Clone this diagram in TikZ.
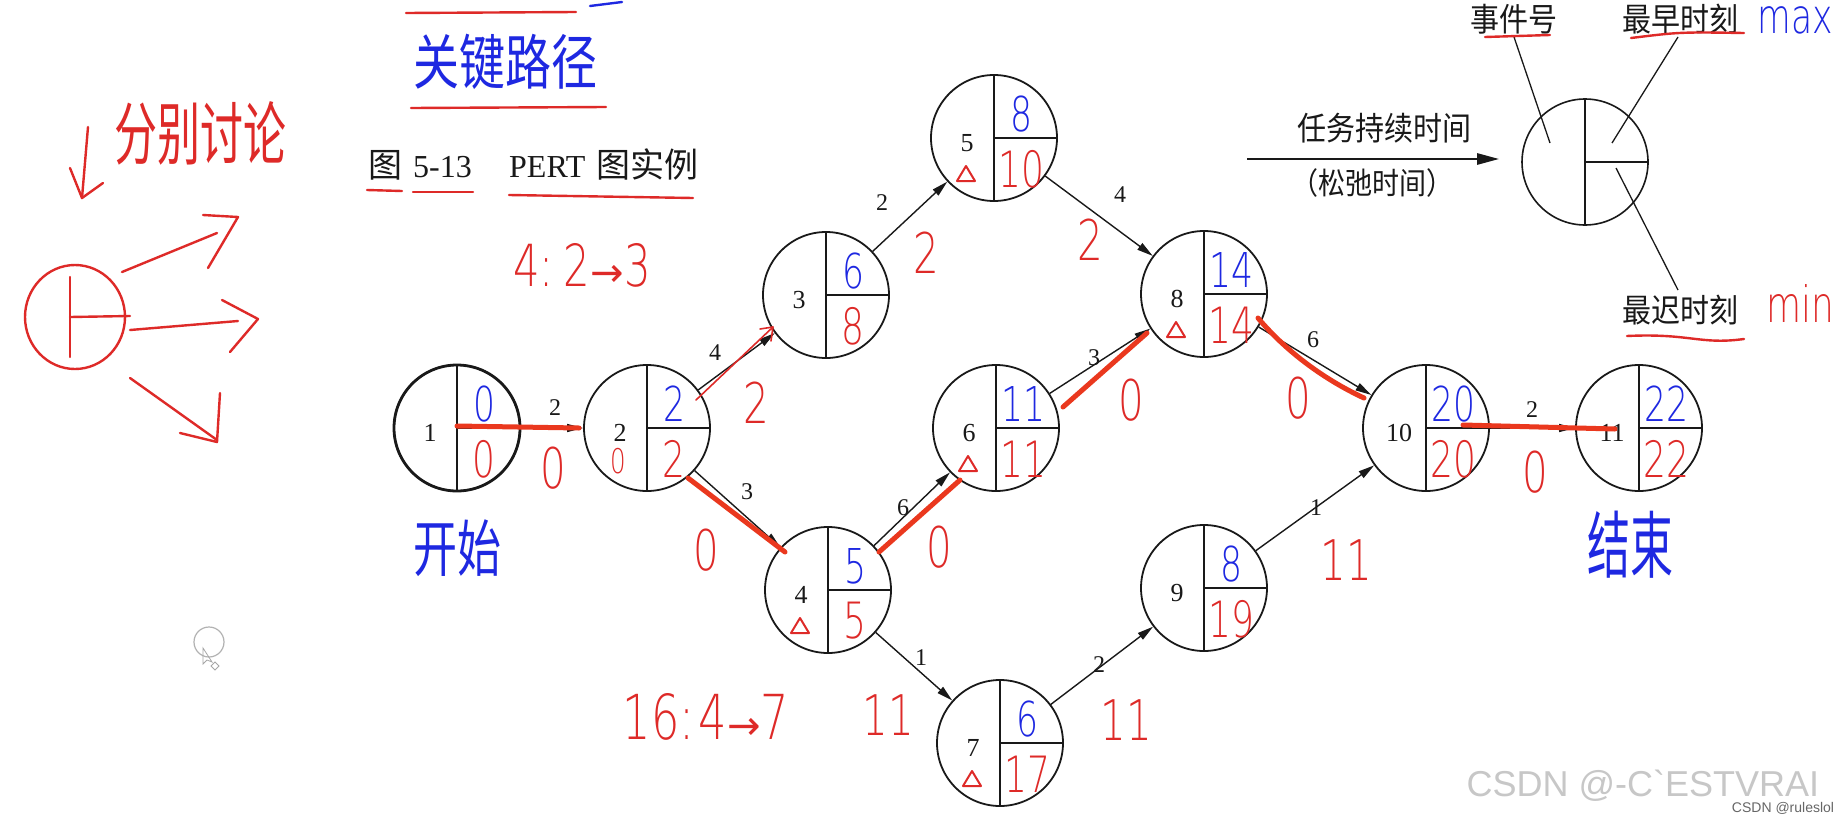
\documentclass[tikz,border=0pt]{standalone}
\usepackage{fontspec}
\setmainfont{Liberation Serif}
\newfontfamily\cjk{Noto Sans CJK SC}
\newfontfamily\hnum[FakeStretch=0.72]{DejaVu Sans ExtraLight}
\newfontfamily\harr{DejaVu Sans}
\newfontfamily\wmfont{Liberation Sans}
\usetikzlibrary{arrows.meta,calc}
\definecolor{hred}{RGB}{222,42,40}
\definecolor{hblue}{RGB}{30,40,225}
\definecolor{ovred}{RGB}{234,56,30}
\definecolor{ink}{RGB}{25,25,25}
\tikzset{
 evt/.style={circle, draw=ink, line width=1.8pt, minimum size=126pt, inner sep=0pt},
 inner/.style={draw=ink, line width=1.8pt},
 arr/.style={draw=ink, line width=1.4pt, -{Triangle[length=16pt,width=8pt]}},
 numtxt/.style={font=\fontsize{26}{28}\selectfont, text=ink, inner sep=0pt},
 elab/.style={font=\fontsize{24}{26}\selectfont, text=ink, inner sep=0pt},
 earl/.style={font=\hnum\fontsize{48}{50}\selectfont, text=hblue, inner sep=0pt},
 late/.style={font=\hnum\fontsize{50}{52}\selectfont, text=hred, inner sep=0pt},
 slack/.style={font=\hnum\fontsize{56}{58}\selectfont, text=hred, inner sep=0pt},
 crit/.style={draw=ovred, line width=5pt, line cap=round},
 hline/.style={draw=hred, line width=2.4pt, line cap=round, line join=round},
 bline/.style={draw=hblue, line width=2.4pt, line cap=round},
 lgtxt/.style={font=\cjk\fontsize{29}{31}\selectfont, text=ink, inner sep=0pt, yscale=1.12},
}
\newcommand{\pertev}[6]{%
  \node[evt] (#1) at (#2,#3) {};
  \draw[inner] (#1.north) -- (#1.south);
  \draw[inner] (#1.center) -- (#1.east);
  \node[numtxt] at ($(#1)+(-27,5)$) {#4};
  \node[earl] at ($(#1)+(27,-24)$) {#5};
  \node[late] at ($(#1)+(27,31)$) {#6};
}
\newcommand{\trimark}[1]{%
  \draw[hline, line width=2pt] ($(#1)+(-37,43)$) -- ($(#1)+(-28,28)$) -- ($(#1)+(-19,43)$) -- cycle;}
\begin{document}
\begin{tikzpicture}[x=1pt,y=-1pt]
\fill[white] (0,0) rectangle (1844,822);
\useasboundingbox (0,0) rectangle (1844,822);

% ---------- event nodes ----------
\pertev{n1}{457}{428}{1}{0}{0}
\draw[ink, line width=2.8pt] (n1) circle (63pt);
\pertev{n2}{647}{428}{2}{2}{2}
\pertev{n3}{826}{295}{3}{6}{8}
\pertev{n4}{828}{590}{4}{5}{5}
\pertev{n5}{994}{138}{5}{8}{10}
\pertev{n6}{996}{428}{6}{11}{11}
\pertev{n7}{1000}{743}{7}{6}{17}
\pertev{n8}{1204}{294}{8}{14}{14}
\pertev{n9}{1204}{588}{9}{8}{19}
\pertev{n10}{1426}{428}{10}{20}{20}
\pertev{n11}{1639}{428}{11}{22}{22}
\node[font=\hnum\fontsize{34}{36}\selectfont, text=hred, inner sep=0pt] (z2) at ($(n2)+(-29,33)$) {0};
\trimark{n4}\trimark{n5}\trimark{n6}\trimark{n7}\trimark{n8}

% ---------- arrows ----------
\draw[arr] (n1) -- (n2);
\draw[arr] (n2) -- (n3);
\draw[arr] (n2) -- (n4);
\draw[arr] (n3) -- (n5);
\draw[arr] (n5) -- (n8);
\draw[arr] (n4) -- (n6);
\draw[arr] (n6) -- (n8);
\draw[arr] (n8) -- (n10);
\draw[arr] (n4) -- (n7);
\draw[arr] (n7) -- (n9);
\draw[arr] (n9) -- (n10);
\draw[arr] (n10) -- (n11);

% ---------- durations ----------
\node[elab] (d12) at (555,408) {2};
\node[elab] (d23) at (715,353) {4};
\node[elab] (d24) at (747,492) {3};
\node[elab] (d35) at (882,203) {2};
\node[elab] (d58) at (1120,195) {4};
\node[elab] (d46) at (903,508) {6};
\node[elab] (d68) at (1094,358) {3};
\node[elab] (d810) at (1313,340) {6};
\node[elab] (d47) at (921,658) {1};
\node[elab] (d79) at (1099,665) {2};
\node[elab] (d910) at (1316,508) {1};
\node[elab] (d1011) at (1532,410) {2};

% ---------- slack (handwritten) ----------
\node[slack] (s12) at (553,468) {0};
\node[slack] (s23) at (756,403) {2};
\node[slack] (s24) at (706,550) {0};
\node[slack] (s35) at (926,253) {2};
\node[slack] (s58) at (1090,240) {2};
\node[slack] (s46) at (939,547) {0};
\node[slack] (s68) at (1131,400) {0};
\node[slack] (s810) at (1298,398) {0};
\node[slack] (s47) at (888,715) {11};
\node[slack] (s79) at (1126,720) {11};
\node[slack] (s910) at (1346,560) {11};
\node[slack] (s1011) at (1535,472) {0};

% ---------- critical path overlay ----------
\draw[crit] ($(n1)+(0,-2)$) -- ($(n2.west)+(-4,0)$);
\draw[crit] ($(n2)+(41,50)$) -- ($(n4)+(-43,-38)$);
\draw[crit] ($(n4)+(51,-38)$) -- ($(n6)+(-36,52)$);
\draw[crit] ($(n6)+(67,-21)$) -- ($(n8)+(-57,39)$);
\draw[crit] ($(n8)+(54,24)$) .. controls ($(n8)+(80,55)$) and ($(n10)+(-105,-50)$) .. ($(n10)+(-62,-30)$);
\draw[crit] ($(n10)+(37,-3)$) -- ($(n11)+(-24,1)$);
\draw[hline, line width=1.6pt] ($(n2)+(49,-28)$) -- ($(n3)+(-53,32)$) -- ++(-2,14);
\draw[hline, line width=1.6pt] ($(n3)+(-53,32)$) -- ++(-13,2);

% ---------- legend ----------
\node[evt, line width=1.6pt] (lg) at (1585,162) {};
\draw[inner, line width=1.6pt] (lg.north) -- (lg.south);
\draw[inner, line width=1.6pt] (lg.center) -- (lg.east);
\coordinate (lgA) at (1247,159);
\draw[draw=ink, line width=2.6pt, -{Triangle[length=22pt,width=11pt]}] (lgA) -- ($(lg.west)+(-22,-3)$);
\node[lgtxt] (lgdur) at (1384,128) {任务持续时间};
\node[lgtxt, font=\cjk\fontsize{27}{29}\selectfont] (lgslk) at (1372,183) {（松弛时间）};
\node[lgtxt] (t1) at (1514,19) {事件号};
\node[lgtxt] (t2) at (1680,19) {最早时刻};
\node[lgtxt] (t3) at (1680,310) {最迟时刻};
\draw[ink, line width=1.3pt] (1514,37) -- ($(lg)+(-35,-19)$);
\draw[ink, line width=1.3pt] (1678,37) -- ($(lg)+(27,-19)$);
\draw[ink, line width=1.3pt] ($(lg)+(31,6)$) -- (1678,290);
\node[font=\hnum\fontsize{48}{50}\selectfont, text=hblue, inner sep=0pt] (mx) at (1795,20) {max};
\node[font=\hnum\fontsize{50}{52}\selectfont, text=hred, inner sep=0pt] (mn) at (1800,304) {min};
\draw[hline] (1485,37) -- (1550,35);
\draw[hline] (1631,38) .. controls (1680,32) .. (1744,33);
\draw[hline] (1627,336) .. controls (1690,333) and (1700,345) .. (1744,339);

% ---------- title ----------
\node[anchor=base west, font=\cjk\fontsize{34}{36}\selectfont, text=ink, inner sep=0pt] (ti1) at (368,177) {图};
\node[anchor=base west, font=\fontsize{32}{34}\selectfont, text=ink, inner sep=0pt] (ti2) at (413,177) {5-13};
\node[anchor=base west, font=\fontsize{32}{34}\selectfont, text=ink, inner sep=0pt] (ti3) at (509,177) {PERT};
\node[anchor=base west, font=\cjk\fontsize{34}{36}\selectfont, text=ink, inner sep=0pt] (ti4) at (596,177) {图实例};
\draw[hline] (367,190) -- (402,191);
\draw[hline] (413,192) -- (473,192);
\draw[hline] (509,195) -- (693,198);

% ---------- top annotations ----------
\draw[hline] (406,13) -- (576,12);
\draw[bline] (590,6) -- (622,2);
\node[font=\cjk\fontsize{46}{48}\selectfont, text=hblue, inner sep=0pt, yscale=1.3] (kp) at (505,62) {关键路径};
\draw[hline] (411,108) -- (606,107);
\node[font=\hnum\fontsize{58}{60}\selectfont, text=hred, inner sep=0pt] (ex1) at (582,265) {4:\hspace{10pt}2{\harr\fontsize{40}{42}\selectfont →}3};
\node[font=\hnum\fontsize{62}{64}\selectfont, text=hred, inner sep=0pt] (ex2) at (706,717) {16:\hspace{4pt}4{\harr\fontsize{40}{42}\selectfont →}7};
\node[font=\cjk\fontsize{44}{46}\selectfont, text=hblue, inner sep=0pt, yscale=1.4] (st) at (457,548) {开始};
\node[font=\cjk\fontsize{43}{45}\selectfont, text=hblue, inner sep=0pt, yscale=1.7] (en) at (1630,545) {结束};

% ---------- left sketch ----------
\node[font=\cjk\fontsize{43}{45}\selectfont, text=hred, inner sep=0pt, yscale=1.6] (fb) at (200,133) {分别讨论};
\draw[hline] (88,127) -- (82,198);
\draw[hline] (70,168) -- (82,198) -- (103,183);
\draw[hline] (75,317) ellipse [x radius=50pt, y radius=52pt];
\draw[hline] (70,277) -- (70,357);
\draw[hline] (70,317) -- (130,316);
\draw[hline] (122,272) -- (217,233);
\draw[hline] (203,215) -- (238,217) -- (208,268);
\draw[hline] (130,330) -- (238,321);
\draw[hline] (222,300) -- (258,319) -- (230,352);
\draw[hline] (130,378) -- (217,440);
\draw[hline] (220,393) -- (217,442) -- (180,433);

% ---------- cursor ----------
\draw[gray!60, line width=1.2pt] (209,642) circle (15pt);
\draw[gray!70, line width=0.8pt] (203,648) -- (203,664) -- (207,660) -- (212,662) -- cycle;
\draw[gray!70, line width=0.8pt] (215,662) -- (219,666) -- (215,670) -- (211,666) -- cycle;

% ---------- watermark ----------
\node[font=\wmfont\fontsize{36}{38}\selectfont, text=black!22, inner sep=0pt] (wm) at (1643,786) {CSDN @-C`ESTVRAI};
\node[font=\wmfont\fontsize{14}{16}\selectfont, text=black!60, inner sep=0pt] (wm2) at (1783,808) {CSDN @ruleslol};
\end{tikzpicture}
\end{document}
